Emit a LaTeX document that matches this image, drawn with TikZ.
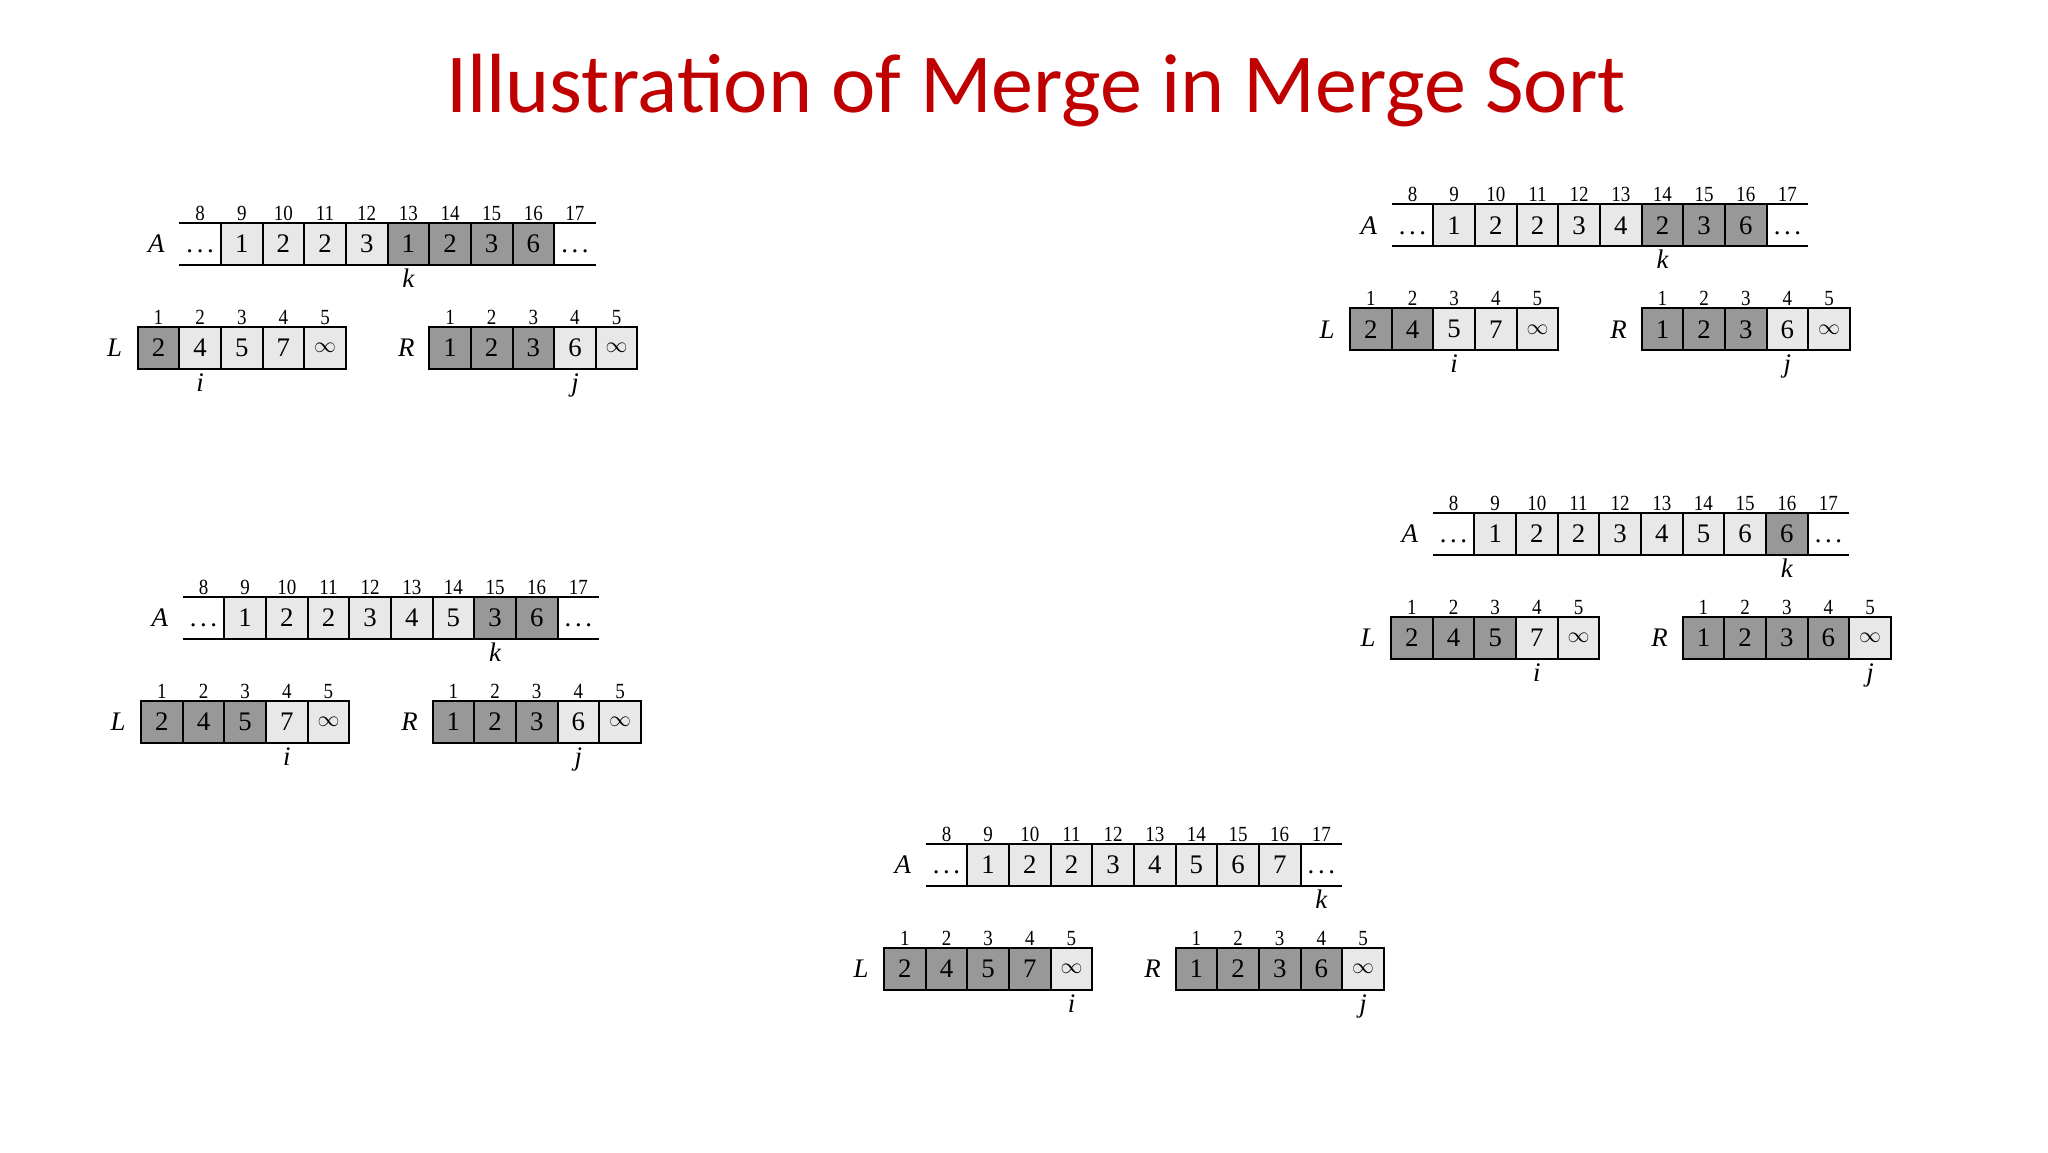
\documentclass[tikz,border=0pt]{standalone}
\usepackage{fontspec}
\setmainfont{Liberation Serif}
\newfontfamily\idxfont[FakeStretch=0.88]{Liberation Serif}
\newfontfamily\titlefont{Carlito}
\definecolor{titlered}{RGB}{192,0,0}
\definecolor{lc}{RGB}{232,232,232}
\definecolor{dc}{RGB}{152,152,152}
\tikzset{
  cellbox/.style={draw=black, line width=1pt, inner sep=0pt,
    minimum width=\cw*0.5pt, minimum height=\ch*0.5pt,
    font=\fontsize{13.4}{13.4}\selectfont},
  idx/.style={font=\idxfont\fontsize{10.8}{10.8}\selectfont, inner sep=0pt, anchor=base},
  lab/.style={font=\fontsize{13.4}{13.4}\selectfont\itshape, inner sep=0pt},
  ptr/.style={font=\fontsize{13.4}{13.4}\selectfont\itshape, inner sep=0pt, anchor=base},
  rule/.style={line width=1pt}
}
\newcommand\setpanel[3]{\def\pp{#1}\def\px{#2}\def\py{#3}}
\def\cw{41.65}
\def\ch{42}
\newcommand\dotsA{\vphantom{0}.\kern1.8pt.\kern1.8pt.}
% A row: #1 list of 8 value/colour, #2 cell number of k (0..9)
\newcommand\rowA[2]{%
  \coordinate (\pp Atl) at (\px,\py);
  \coordinate (\pp Atr) at ({\px+10*\cw},\py);
  \coordinate (\pp Abl) at (\px,{\py+\ch});
  \coordinate (\pp Abr) at ({\px+10*\cw},{\py+\ch});
  \foreach \v/\c [count=\n] in {#1} {
    \node[cellbox, fill=\c] (\pp A\n) at ({\px+(\n+0.5)*\cw},{\py+0.5*\ch}) {\v};
  }
  \node[cellbox, draw=none] (\pp Adl) at ({\px+0.5*\cw},{\py+0.5*\ch}) {\dotsA};
  \node[cellbox, draw=none] (\pp Adr) at ({\px+9.5*\cw},{\py+0.5*\ch}) {\dotsA};
  \draw[rule] (\pp Atl) -- (\pp Atr);
  \draw[rule] (\pp Abl) -- (\pp Abr);
  \foreach \m in {0,...,9} {
    \node[idx] (\pp Ai\m) at ({\px+(\m+0.5)*\cw},{\py-2.5}) {\the\numexpr\m+8\relax};
  }
  \node[lab] (\pp Alab) at ({\px-23},{\py+0.5*\ch}) {A};
  \node[ptr] (\pp k) at ({\px+(#2+0.5)*\cw},{\py+\ch+22.5}) {k};
}
% L or R row: #1 letter, #2 left x, #3 list of 5 value/colour, #4 pointer cell (1..5), #5 pointer letter
\newcommand\rowLR[5]{%
  \foreach \v/\c [count=\n] in {#3} {
    \node[cellbox, fill=\c] (\pp #1\n) at ({#2+(\n-0.5)*\cw},{\py+104+0.5*\ch}) {\v};
    \node[idx] (\pp #1i\n) at ({#2+(\n-0.5)*\cw},{\py+104-2.5}) {\n};
  }
  \node[lab] (\pp #1lab) at ({#2-23},{\py+104+0.5*\ch}) {#1};
  \node[ptr] (\pp #5) at ({#2+(#4-0.5)*\cw},{\py+104+\ch+22.5}) {#5};
}
\newcommand\infy{{\fontsize{11}{11}\selectfont$\infty$}}
\begin{document}
\begin{tikzpicture}[x=0.5pt,y=-0.5pt]
\useasboundingbox (0,0) rectangle (2048,1152);
\fill[white] (0,0) rectangle (2048,1152);
\node[anchor=base, inner sep=0pt, text=titlered, font=\titlefont\fontsize{42}{42}\selectfont] (title) at (1036,112) {Illustration of Merge in Merge Sort};

% Panel 1 (k = 13)
\setpanel{pa}{179.3}{222.7}
\rowA{1/lc,2/lc,2/lc,3/lc,1/dc,2/dc,3/dc,6/dc}{5}
\rowLR{L}{\px-\cw}{2/dc,4/lc,5/lc,7/lc,\infy/lc}{2}{i}
\rowLR{R}{\px+6*\cw}{1/dc,2/dc,3/dc,6/lc,\infy/lc}{4}{j}

% Panel 2 (k = 14)
\setpanel{pb}{1391.7}{204.3}
\rowA{1/lc,2/lc,2/lc,3/lc,4/lc,2/dc,3/dc,6/dc}{6}
\rowLR{L}{\px-\cw}{2/dc,4/dc,5/lc,7/lc,\infy/lc}{3}{i}
\rowLR{R}{\px+6*\cw}{1/dc,2/dc,3/dc,6/lc,\infy/lc}{4}{j}

% Panel 3 (k = 15)
\setpanel{pc}{182.7}{596.7}
\rowA{1/lc,2/lc,2/lc,3/lc,4/lc,5/lc,3/dc,6/dc}{7}
\rowLR{L}{\px-\cw}{2/dc,4/dc,5/dc,7/lc,\infy/lc}{4}{i}
\rowLR{R}{\px+6*\cw}{1/dc,2/dc,3/dc,6/lc,\infy/lc}{4}{j}

% Panel 4 (k = 16)
\setpanel{pd}{1432.7}{512.7}
\rowA{1/lc,2/lc,2/lc,3/lc,4/lc,5/lc,6/lc,6/dc}{8}
\rowLR{L}{\px-\cw}{2/dc,4/dc,5/dc,7/lc,\infy/lc}{4}{i}
\rowLR{R}{\px+6*\cw}{1/dc,2/dc,3/dc,6/dc,\infy/lc}{5}{j}

% Panel 5 (k = 17)
\setpanel{pe}{925.7}{844}
\rowA{1/lc,2/lc,2/lc,3/lc,4/lc,5/lc,6/lc,7/lc}{9}
\rowLR{L}{\px-\cw}{2/dc,4/dc,5/dc,7/dc,\infy/lc}{5}{i}
\rowLR{R}{\px+6*\cw}{1/dc,2/dc,3/dc,6/dc,\infy/lc}{5}{j}
\end{tikzpicture}
\end{document}
